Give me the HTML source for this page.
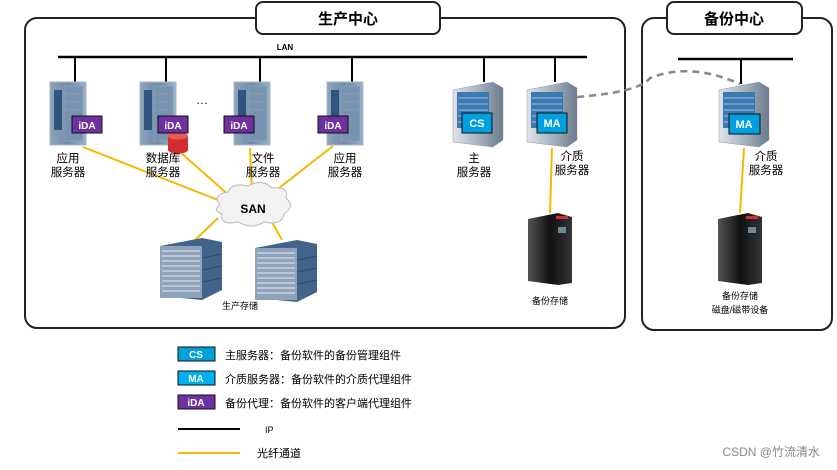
<!DOCTYPE html>
<html><head><meta charset="utf-8"><style>
body{margin:0;background:#fff}
svg{display:block;font-family:"Liberation Sans","Noto Sans CJK SC",sans-serif}
</style></head><body>
<svg width="837" height="470" viewBox="0 0 837 470" xmlns="http://www.w3.org/2000/svg">
<defs>
<linearGradient id="rk" x1="0" x2="1"><stop offset="0" stop-color="#8ea4bb"/><stop offset="0.5" stop-color="#6f8ba8"/><stop offset="1" stop-color="#9ab0c6"/></linearGradient>
<linearGradient id="tw" x1="0" x2="1"><stop offset="0" stop-color="#dfe4ea"/><stop offset="0.6" stop-color="#9aa8b8"/><stop offset="1" stop-color="#6b7a8c"/></linearGradient>
<linearGradient id="bk" x1="0" x2="1"><stop offset="0" stop-color="#555"/><stop offset="0.5" stop-color="#111"/><stop offset="1" stop-color="#333"/></linearGradient>
<g id="rack">
<rect x="0" y="0" width="36" height="63" fill="url(#rk)" stroke="#a8bacb"/>
<rect x="4" y="8" width="8" height="40" fill="#2f557e"/>
<rect x="14" y="4" width="19" height="55" fill="#7893af" stroke="#9cb0c5" stroke-width="0.5"/>
<g stroke="#90a7bd" stroke-width="0.6"><line x1="15" y1="12" x2="32" y2="12"/><line x1="15" y1="20" x2="32" y2="20"/><line x1="15" y1="28" x2="32" y2="28"/></g>
</g>
<g id="tower">
<path d="M0 8 L40 0 L50 6 L50 58 L40 65 L0 60 Z" fill="url(#tw)" stroke="#8a98a8" stroke-width="0.5"/>
<rect x="4" y="10" width="32" height="36" fill="#3e79b0"/>
<g stroke="#8cc0ea" stroke-width="1"><line x1="5" y1="16" x2="35" y2="16"/><line x1="5" y1="22" x2="35" y2="22"/><line x1="5" y1="28" x2="35" y2="28"/><line x1="5" y1="34" x2="35" y2="34"/><line x1="5" y1="40" x2="35" y2="40"/></g>
</g>
<g id="black">
<path d="M0 6 L30 0 L44 4 L44 70 L30 72 L0 68 Z" fill="url(#bk)"/>
<rect x="28" y="3" width="12" height="3" fill="#c33"/>
<rect x="30" y="14" width="8" height="6" fill="#6a8a9a"/>
</g>
<g id="arr">
<path d="M0 8 L42 0 L62 4 L62 52 L42 62 L0 58 Z" fill="#42648a"/>
<rect x="0" y="8" width="42" height="52" fill="#8ea3bb"/>
<g stroke="#d5dde6" stroke-width="1.2">
<line x1="2" y1="13" x2="40" y2="13"/><line x1="2" y1="18" x2="40" y2="18"/><line x1="2" y1="23" x2="40" y2="23"/><line x1="2" y1="28" x2="40" y2="28"/><line x1="2" y1="33" x2="40" y2="33"/><line x1="2" y1="38" x2="40" y2="38"/><line x1="2" y1="43" x2="40" y2="43"/><line x1="2" y1="48" x2="40" y2="48"/><line x1="2" y1="53" x2="40" y2="53"/></g>
<g stroke="#2e4b6c"><line x1="42" y1="20" x2="62" y2="16"/><line x1="42" y1="32" x2="62" y2="28"/><line x1="42" y1="44" x2="62" y2="40"/></g>
</g>
</defs>

<rect x="25" y="18" width="600" height="310" rx="12" fill="none" stroke="#222" stroke-width="2"/>
<rect x="256" y="2" width="184" height="32" rx="7" fill="#fff" stroke="#222" stroke-width="2"/>
<text x="348" y="24" font-size="15" font-weight="bold" text-anchor="middle">生产中心</text>
<rect x="642" y="18" width="190" height="312" rx="12" fill="none" stroke="#222" stroke-width="2"/>
<rect x="667" y="2" width="135" height="32" rx="7" fill="#fff" stroke="#222" stroke-width="2"/>
<text x="734" y="24" font-size="15" font-weight="bold" text-anchor="middle">备份中心</text>

<line x1="58" y1="57" x2="587" y2="57" stroke="#000" stroke-width="2.5"/>
<text x="285" y="50" font-size="8" font-weight="bold" text-anchor="middle">LAN</text>
<g stroke="#000" stroke-width="2">
<line x1="75" y1="57" x2="75" y2="82"/><line x1="166" y1="57" x2="166" y2="82"/><line x1="260" y1="57" x2="260" y2="82"/><line x1="352" y1="57" x2="352" y2="82"/>
<line x1="484" y1="57" x2="484" y2="82"/><line x1="555" y1="57" x2="555" y2="82"/>
</g>
<line x1="678" y1="59" x2="793" y2="59" stroke="#000" stroke-width="2.5"/>
<line x1="741" y1="59" x2="741" y2="84" stroke="#000" stroke-width="2"/>

<g stroke="#f5b800" stroke-width="2">
<line x1="83" y1="147" x2="218" y2="200"/><line x1="180" y1="152" x2="232" y2="198"/>
<line x1="250" y1="148" x2="252" y2="193"/><line x1="333" y1="146" x2="270" y2="195"/>
<line x1="218" y1="218" x2="195" y2="240"/><line x1="272" y1="222" x2="282" y2="240"/>
<line x1="552" y1="148" x2="550" y2="213"/><line x1="744" y1="148" x2="740" y2="213"/>
</g>
<path d="M577 97 Q640 92 650 78 Q690 62 740 84" fill="none" stroke="#888" stroke-width="2.5" stroke-dasharray="7,5"/>

<use href="#rack" x="50" y="82"/><use href="#rack" x="140" y="82"/><use href="#rack" x="234" y="82"/><use href="#rack" x="327" y="82"/>
<path d="M168 136 L168 150 A10 3.5 0 0 0 188 150 L188 136 Z" fill="#d32f2f"/>
<ellipse cx="178" cy="136" rx="10" ry="3.5" fill="#e85a5a"/>
<text x="202" y="104" font-size="12" text-anchor="middle">…</text>
<g font-size="10" font-weight="bold" fill="#fff" text-anchor="middle">
<rect x="72" y="116" width="30" height="17" fill="#7030a0" stroke="#111"/><text x="87" y="129">iDA</text>
<rect x="158" y="116" width="30" height="17" fill="#7030a0" stroke="#111"/><text x="173" y="129">iDA</text>
<rect x="224" y="116" width="30" height="17" fill="#7030a0" stroke="#111"/><text x="239" y="129">iDA</text>
<rect x="318" y="116" width="30" height="17" fill="#7030a0" stroke="#111"/><text x="333" y="129">iDA</text>
</g>
<g font-size="11.5" text-anchor="middle">
<text x="68" y="162">应用</text><text x="68" y="176">服务器</text>
<text x="163" y="162">数据库</text><text x="163" y="176">服务器</text>
<text x="263" y="162">文件</text><text x="263" y="176">服务器</text>
<text x="345" y="162">应用</text><text x="345" y="176">服务器</text>
<text x="474" y="162">主</text><text x="474" y="176">服务器</text>
<text x="572" y="160">介质</text><text x="572" y="174">服务器</text>
<text x="766" y="160">介质</text><text x="766" y="174">服务器</text>
</g>

<use href="#tower" x="453" y="82"/><use href="#tower" x="527" y="82"/><use href="#tower" x="719" y="82"/>
<g font-size="11" font-weight="bold" fill="#fff" text-anchor="middle">
<rect x="462" y="113" width="30" height="20" fill="#00a0e0" stroke="#111"/><text x="477" y="127">CS</text>
<rect x="537" y="113" width="30" height="20" fill="#00a0e0" stroke="#111"/><text x="552" y="127">MA</text>
<rect x="729" y="114" width="31" height="20" fill="#00a0e0" stroke="#111"/><text x="744" y="128">MA</text>
</g>

<use href="#black" x="528" y="213"/><use href="#black" x="718" y="213"/>
<g font-size="9" text-anchor="middle">
<text x="550" y="304">备份存储</text>
<text x="740" y="299">备份存储</text><text x="740" y="313">磁盘/磁带设备</text>
<text x="240" y="309">生产存储</text>
</g>

<path d="M220 205 Q212 194 228 192 Q232 182 248 186 Q262 178 272 188 Q290 186 286 198 Q296 206 284 214 Q282 226 264 222 Q252 230 238 222 Q220 226 222 214 Q212 210 220 205 Z" fill="#f3f3f3" stroke="#bbb"/>
<text x="253" y="213" font-size="12" font-weight="bold" text-anchor="middle">SAN</text>

<use href="#arr" x="160" y="238"/><use href="#arr" x="255" y="240"/>

<g font-size="10" font-weight="bold" fill="#fff" text-anchor="middle">
<rect x="178" y="347" width="37" height="14" fill="#00a0d8" stroke="#111"/><text x="196" y="358">CS</text>
<rect x="178" y="371" width="37" height="14" fill="#00b0f0" stroke="#111"/><text x="196" y="382">MA</text>
<rect x="178" y="395" width="37" height="14" fill="#7030a0" stroke="#111"/><text x="196" y="406">iDA</text>
</g>
<g font-size="11">
<text x="225" y="359">主服务器：备份软件的备份管理组件</text>
<text x="225" y="383">介质服务器：备份软件的介质代理组件</text>
<text x="225" y="407">备份代理：备份软件的客户端代理组件</text>
<text x="265" y="433" font-size="9">IP</text>
<text x="257" y="457">光纤通道</text>
</g>
<line x1="178" y1="429" x2="240" y2="429" stroke="#000" stroke-width="2"/>
<line x1="178" y1="453" x2="240" y2="453" stroke="#f5b800" stroke-width="2"/>
<text x="820" y="456" font-size="12" fill="#888" text-anchor="end">CSDN @竹流清水</text>
</svg>
</body></html>
